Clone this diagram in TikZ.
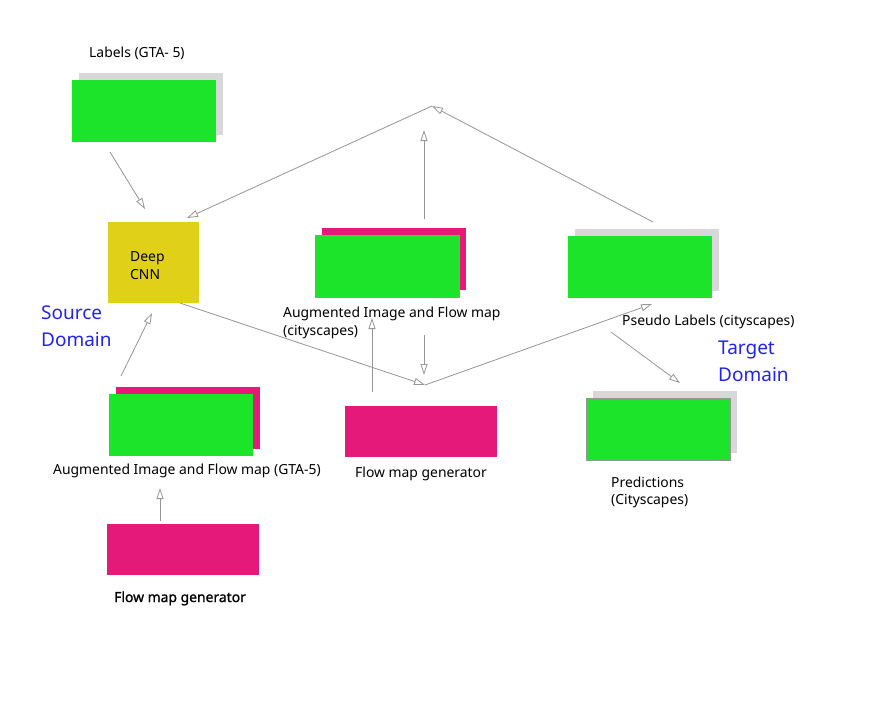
\documentclass[tikz,border=0pt]{standalone}
\usepackage{fontspec}
\setmainfont{Noto Sans}
\newfontfamily\semibfont[FakeBold=1.3]{Noto Sans}
\usetikzlibrary{arrows.meta}
\definecolor{cgreen}{RGB}{27,228,42}
\definecolor{cmag}{RGB}{229,25,122}
\definecolor{cyel}{RGB}{224,208,24}
\definecolor{cshadow}{RGB}{216,216,216}
\definecolor{cblue}{RGB}{35,35,240}
\definecolor{carrow}{RGB}{150,150,150}
\tikzset{
  boxbase/.style={anchor=north west, inner sep=0pt, outer sep=0pt, draw=none},
  greenbox/.style={boxbase, fill=cgreen},
  greenedge/.style={boxbase, fill=cgreen, draw=carrow, line width=0.8pt},
  magbox/.style={boxbase, fill=cmag},
  shadowbox/.style={boxbase, fill=cshadow},
  yelbox/.style={boxbase, fill=cyel},
  lbl/.style={anchor=base west, inner sep=0pt, font=\fontsize{13.9}{16}\selectfont, text=black},
  dom/.style={anchor=base west, inner sep=0pt, font=\fontsize{19}{22}\selectfont, text=cblue},
  conn/.style={draw=carrow, line width=0.8pt, -{Triangle[open,length=11pt,width=7pt]}},
}
\begin{document}
\begin{tikzpicture}[x=1pt,y=-1pt]
\path[use as bounding box, fill=white] (0,0) rectangle (885,707);
% Labels GTA-5
\node[shadowbox, minimum width=144pt, minimum height=62pt] (labshadow) at (79,73) {};
\node[greenbox, minimum width=144pt, minimum height=62pt] (lab) at (72,80) {};
\node[lbl] (labtxt) at (89,57) {Labels (GTA- 5)};
% Deep CNN
\node[yelbox, minimum width=91pt, minimum height=81pt] (cnn) at (108,222) {};
\node[lbl] (cnn1) at (130,261) {Deep};
\node[lbl] (cnn2) at (130,279) {CNN};
% Augmented cityscapes
\node[magbox, minimum width=144pt, minimum height=62pt] (augcback) at (322,228) {};
\node[greenedge, minimum width=144pt, minimum height=62pt] (augc) at (315,235) {};
\node[lbl] (augct1) at (283,317) {Augmented Image and Flow map};
\node[lbl] (augct2) at (283,335) {(cityscapes)};
% Pseudo labels
\node[shadowbox, minimum width=144pt, minimum height=62pt] (psback) at (575,229) {};
\node[greenbox, minimum width=144pt, minimum height=62pt] (ps) at (568,236) {};
\node[lbl] (pstxt) at (622,325) {Pseudo Labels (cityscapes)};
% Augmented GTA-5
\node[magbox, minimum width=144pt, minimum height=62pt] (auggback) at (116,387) {};
\node[greenbox, minimum width=144pt, minimum height=62pt] (augg) at (109,394) {};
\node[lbl] (auggt) at (53,474) {Augmented Image and Flow map (GTA-5)};
% Flow map generator bottom
\node[magbox, minimum width=152pt, minimum height=51pt] (fmg1) at (107,524) {};
\node[lbl, font=\fontsize{13.9}{16}\selectfont\semibfont] (fmg1t) at (114,602) {Flow map generator};
% Flow map generator middle
\node[magbox, minimum width=152pt, minimum height=51pt] (fmg2) at (345,406) {};
\node[lbl] (fmg2t) at (355,477) {Flow map generator};
% Predictions
\node[shadowbox, minimum width=144pt, minimum height=62pt] (prback) at (593,391) {};
\node[greenedge, minimum width=144pt, minimum height=62pt] (pr) at (586,398) {};
\node[lbl] (prt1) at (611,487) {Predictions};
\node[lbl] (prt2) at (611,504) {(Cityscapes)};
% Domains
\node[dom] (src1) at (41,319) {Source};
\node[dom] (src2) at (41,346) {Domain};
\node[dom] (tgt1) at (718,354) {Target};
\node[dom] (tgt2) at (718,381) {Domain};
% connector points
\coordinate (a1s) at (110,152); \coordinate (a1e) at (145,209);
\coordinate (apex) at (432,106);
\coordinate (psup) at (653,222);
\coordinate (cnntop) at (187,218);
\coordinate (augcup) at (424,219); \coordinate (augcupe) at (424,130);
\coordinate (auggup) at (121,376); \coordinate (auggupe) at (152,313);
\coordinate (cnnout) at (180,303);
\coordinate (junc) at (425,385);
\coordinate (augcdn) at (424,335); \coordinate (augcdne) at (424,375);
\coordinate (psin) at (652,304);
\coordinate (fmg2up) at (372,392); \coordinate (fmg2upe) at (372,318);
\coordinate (psout) at (611,332); \coordinate (prin) at (680,383);
\coordinate (fmg1up) at (160,521); \coordinate (fmg1upe) at (160,488);
% connectors
\draw[conn] (a1s) -- (a1e);
\draw[conn] (psup) -- (apex);
\draw[conn] (apex) -- (cnntop);
\draw[conn] (augcup) -- (augcupe);
\draw[conn] (auggup) -- (auggupe);
\draw[conn] (cnnout) -- (junc);
\draw[conn] (augcdn) -- (augcdne);
\draw[conn] (junc) -- (psin);
\draw[conn] (fmg2up) -- (fmg2upe);
\draw[conn] (psout) -- (prin);
\draw[conn] (fmg1up) -- (fmg1upe);
\end{tikzpicture}
\end{document}
